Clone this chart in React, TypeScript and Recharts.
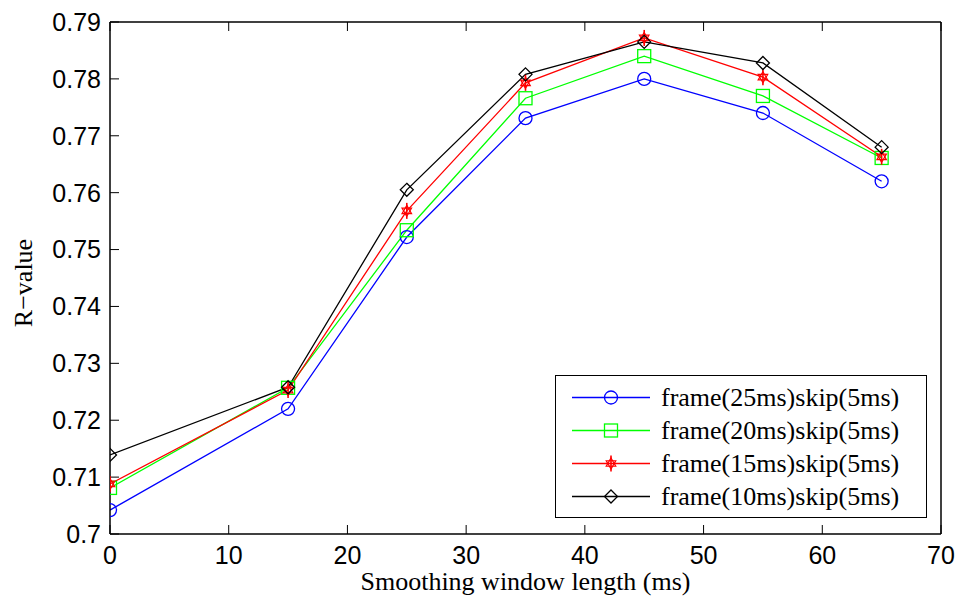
import React from 'react';
import { LineChart, Line, XAxis, YAxis, Legend, Label } from 'recharts';

const windowLengths = [0, 15, 25, 35, 45, 55, 65];
const frame25 = [0.7042, 0.7220, 0.7522, 0.7731, 0.7800, 0.7740, 0.7620];
const frame20 = [0.7081, 0.7257, 0.7534, 0.7766, 0.7840, 0.7770, 0.7661];
const frame15 = [0.7088, 0.7253, 0.7568, 0.7793, 0.7872, 0.7803, 0.7663];
const frame10 = [0.7139, 0.7258, 0.7605, 0.7808, 0.7865, 0.7828, 0.7680];
const seriesNames = [
  'frame(25ms)skip(5ms)',
  'frame(20ms)skip(5ms)',
  'frame(15ms)skip(5ms)',
  'frame(10ms)skip(5ms)',
];
const xTicks = [0, 10, 20, 30, 40, 50, 60, 70];
const yTicks = [0.7, 0.71, 0.72, 0.73, 0.74, 0.75, 0.76, 0.77, 0.78, 0.79];

const data = windowLengths.map((x, i) => ({
  x,
  s25: frame25[i],
  s20: frame20[i],
  s15: frame15[i],
  s10: frame10[i],
}));

type MarkerKind = 'circle' | 'square' | 'hexagram' | 'diamond';

const Marker = ({ kind, cx, cy, color }: { kind: MarkerKind; cx: number; cy: number; color: string }) => {
  const sw = 1.3;
  if (kind === 'circle') {
    return <circle cx={cx} cy={cy} r={6.5} fill="none" stroke={color} strokeWidth={sw} />;
  }
  if (kind === 'square') {
    return <rect x={cx - 6.5} y={cy - 6.5} width={13} height={13} fill="none" stroke={color} strokeWidth={sw} />;
  }
  if (kind === 'diamond') {
    const d = 6.5;
    return (
      <polygon
        points={`${cx},${cy - d} ${cx + d},${cy} ${cx},${cy + d} ${cx - d},${cy}`}
        fill="none"
        stroke={color}
        strokeWidth={sw}
      />
    );
  }
  const r = 5.5;
  const tri = (rot: number) =>
    [0, 1, 2]
      .map((k) => {
        const a = rot + (k * 2 * Math.PI) / 3;
        return `${cx + r * Math.sin(a)},${cy - r * Math.cos(a)}`;
      })
      .join(' ');
  return (
    <g>
      <polygon points={tri(0)} fill="none" stroke={color} strokeWidth={1.2} />
      <polygon points={tri(Math.PI)} fill="none" stroke={color} strokeWidth={1.2} />
      <line x1={cx} y1={cy - 8} x2={cx} y2={cy + 8} stroke={color} strokeWidth={1.6} />
    </g>
  );
};

const seriesDefs: { key: string; color: string; kind: MarkerKind; name: string }[] = [
  { key: 's25', color: '#0000ff', kind: 'circle', name: seriesNames[0] },
  { key: 's20', color: '#00ff00', kind: 'square', name: seriesNames[1] },
  { key: 's15', color: '#ff0000', kind: 'hexagram', name: seriesNames[2] },
  { key: 's10', color: '#000000', kind: 'diamond', name: seriesNames[3] },
];

const makeDot = (kind: MarkerKind, color: string) => (p: any) => (
  <Marker key={`${kind}-${p.index}`} kind={kind} cx={p.cx} cy={p.cy} color={color} />
);

const LegendBox = () => (
  <div
    style={{
      width: 372,
      height: 143,
      boxSizing: 'border-box',
      border: '1.5px solid #000',
      background: '#fff',
      paddingTop: 5,
    }}
  >
    {seriesDefs.map((s) => (
      <div key={s.key} style={{ display: 'flex', alignItems: 'center', height: 33 }}>
        <svg width={105} height={33} style={{ flex: 'none' }}>
          <line x1={16} y1={16.5} x2={94} y2={16.5} stroke={s.color} strokeWidth={1.3} />
          <Marker kind={s.kind} cx={55} cy={16.5} color={s.color} />
        </svg>
        <span
          style={{
            fontFamily: '"Liberation Serif", "Times New Roman", serif',
            fontSize: 26,
            color: '#000',
            lineHeight: '33px',
            whiteSpace: 'nowrap',
          }}
        >
          {s.name}
        </span>
      </div>
    ))}
  </div>
);

const tickStyle = { fontFamily: '"Liberation Sans", Arial, sans-serif', fontSize: 25, fill: '#000' };

const YLabel = (props: any) => {
  const vb = props.viewBox || { x: 0, y: 22, width: 110, height: 512 };
  const x = vb.x + 23;
  const y = vb.y + vb.height / 2 + 5;
  return (
    <text
      x={x}
      y={y}
      transform={`rotate(-90, ${x}, ${y})`}
      textAnchor="middle"
      dominantBaseline="central"
      style={{ fontFamily: '"Liberation Serif", "Times New Roman", serif', fontSize: 26, fill: '#000' }}
    >
      R−value
    </text>
  );
};

const XLabel = (props: any) => {
  const vb = props.viewBox || { x: 110, y: 534, width: 831, height: 67 };
  const x = vb.x + vb.width / 2;
  const y = vb.y + 56;
  return (
    <text
      x={x}
      y={y}
      textAnchor="middle"
      style={{ fontFamily: '"Liberation Serif", "Times New Roman", serif', fontSize: 26, fill: '#000' }}
    >
      Smoothing window length (ms)
    </text>
  );
};

export default function App() {
  return (
    <div style={{ position: 'absolute', left: 0, top: 0, background: '#fff' }}>
      <LineChart width={962} height={601} data={data} margin={{ top: 0, right: 0, bottom: 0, left: 0 }}>
        <XAxis
          dataKey="x"
          type="number"
          domain={[0, 70]}
          ticks={xTicks}
          height={67}
          tickSize={-9}
          tickMargin={21}
          tick={tickStyle}
          axisLine={{ stroke: '#000', strokeWidth: 1.5 }}
          tickLine={{ stroke: '#000', strokeWidth: 1 }}
          allowDataOverflow
        >
          <Label content={XLabel} />
        </XAxis>
        <XAxis
          xAxisId="top"
          orientation="top"
          dataKey="x"
          type="number"
          domain={[0, 70]}
          ticks={xTicks}
          height={22}
          tickSize={-9}
          tick={() => <g />}
          axisLine={{ stroke: '#000', strokeWidth: 1.5 }}
          tickLine={{ stroke: '#000', strokeWidth: 1 }}
        />
        <YAxis
          type="number"
          domain={[0.7, 0.79]}
          ticks={yTicks}
          width={110}
          tickSize={-9}
          tickMargin={18}
          tick={tickStyle}
          tickFormatter={(v: number) => String(Number(v.toFixed(2)))}
          axisLine={{ stroke: '#000', strokeWidth: 1.5 }}
          tickLine={{ stroke: '#000', strokeWidth: 1 }}
          allowDataOverflow
        >
          <Label content={YLabel} />
        </YAxis>
        <YAxis
          yAxisId="right"
          orientation="right"
          type="number"
          domain={[0.7, 0.79]}
          ticks={yTicks}
          width={21}
          tickSize={-9}
          tick={() => <g />}
          axisLine={{ stroke: '#000', strokeWidth: 1.5 }}
          tickLine={{ stroke: '#000', strokeWidth: 1 }}
        />
        <Legend
          layout="horizontal"
          verticalAlign="middle"
          align="center"
          content={LegendBox}
          wrapperStyle={{ position: 'absolute', left: 555, top: 375, width: 372, height: 143 }}
        />
        {seriesDefs.map((s) => (
          <Line
            key={s.key}
            dataKey={s.key}
            name={s.name}
            type="linear"
            stroke={s.color}
            strokeWidth={1.3}
            dot={makeDot(s.kind, s.color)}
            activeDot={false}
            isAnimationActive={false}
          />
        ))}
      </LineChart>
    </div>
  );
}
